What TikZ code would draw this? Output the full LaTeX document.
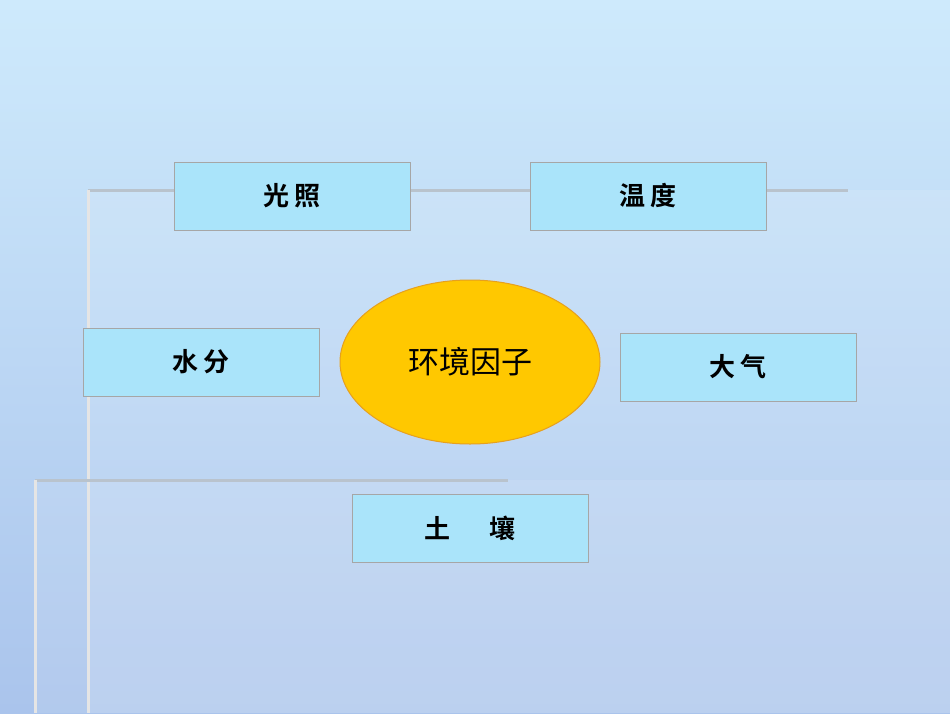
\documentclass[tikz,border=0pt]{standalone}
\usepackage{fontspec}
\usetikzlibrary{shapes.geometric}
\newfontfamily\cjk{Noto Sans CJK SC}
\newfontfamily\cjkb{Noto Sans CJK SC Bold}
\begin{document}
\begin{tikzpicture}[x=1pt,y=-1pt,
  box/.style={draw=gray!70,line width=1pt,fill={rgb,255:red,170;green,228;blue,250},minimum width=236pt,minimum height=68pt,inner sep=0pt,font=\cjkb\fontsize{26}{28}\selectfont},
  deco/.style={line width=3pt,color={rgb,255:red,185;green,195;blue,205}}]
\shade[top color={rgb,255:red,206;green,234;blue,252},bottom color={rgb,255:red,170;green,196;blue,236}] (0,0) rectangle (950,713);
\fill[white,opacity=0.12] (88,190) rectangle (950,713);
\fill[white,opacity=0.10] (35,480) rectangle (950,713);
\draw[deco] (88,190) -- (848,190);
\draw[deco,white!80!gray] (88,190) -- (88,713);
\draw[deco] (35,480) -- (508,480);
\draw[deco,white!80!gray] (35,480) -- (35,713);
\node[box] (gz) at (292,196) {光\kern6pt 照};
\node[box] (wd) at (648,196) {温\kern6pt 度};
\node[box] (sf) at (201,362) {水\kern6pt 分};
\node[box] (dq) at (738,367) {大\kern6pt 气};
\node[box] (tr) at (470,528) {土\kern40pt 壤};
\node[ellipse,draw={rgb,255:red,230;green,160;blue,30},line width=1pt,fill={rgb,255:red,255;green,200;blue,0},minimum width=260pt,minimum height=164pt,font=\cjk\fontsize{31}{33}\selectfont] (hj) at (470,362) {环境因子};
\end{tikzpicture}
\end{document}
